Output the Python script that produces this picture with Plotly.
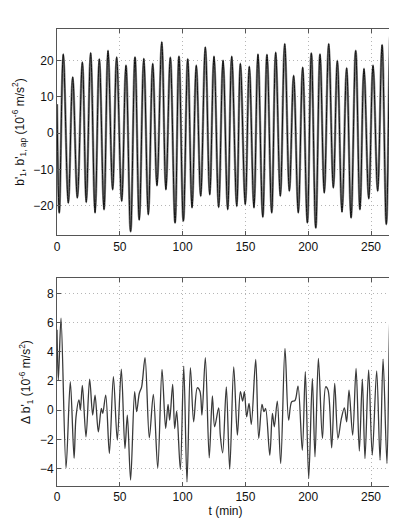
import plotly.graph_objects as go

# Top panel: b'_1 (local extrema), time in min, value in 1e-6 m/s^2
top_t = [0, 1.8, 5.0, 9.0, 12.5, 16.2, 20.2, 23.3, 26.8, 30.3, 33.7, 37.4, 40.6, 44.3, 47.5,
         51.5, 54.9, 58.6, 62.1, 65.5, 69.1, 72.7, 76.2, 79.6, 83.4, 86.7, 90.2, 94.0, 97.1,
         100.6, 104.1, 107.5, 110.9, 114.4, 118.1, 121.6, 125.0, 128.7, 132.2, 135.9, 139.1,
         143.1, 146.0, 149.9, 153.1, 156.8, 160.0, 163.8, 167.2, 170.9, 174.1, 177.8, 181.3,
         185.0, 188.4, 192.1, 195.6, 199.3, 202.5, 206.0, 209.4, 212.8, 216.3, 220.0, 223.2,
         226.9, 230.6, 234.1, 237.8, 241.2, 244.4, 248.2, 251.6, 255.3, 258.8, 262.2, 265.4, 268.3]
top_v = [8, -22.0, 21.8, -19.3, 15.5, -17.9, 19.6, -19.1, 22.2, -22.0, 20.5, -21.1, 22.8, -15.6, 21.0,
         -18.8, 18.7, -27.2, 21.0, -24.0, 20.6, -22.5, 19.2, -14.5, 25.2, -15.6, 20.9, -24.8, 21.2,
         -24.3, 20.5, -20.6, 18.7, -17.4, 23.8, -17.0, 21.2, -20.5, 20.1, -21.1, 21.2,
         -20.2, 19.2, -19.7, 18.4, -20.6, 21.8, -23.2, 21.7, -22.0, 22.3, -17.4, 24.7,
         -16.0, 15.9, -22.0, 18.2, -24.8, 22.1, -26.2, 21.8, -16.5, 24.7, -15.1, 20.0,
         -21.8, 18.0, -23.4, 22.8, -21.1, 17.8, -18.1, 18.7, -16.0, 24.4, -25.2, 27.6, -18.0]

# Bottom panel: delta b'_1
bot_t = [0, 1.06, 3.2, 7.2, 10.6, 13.6, 15.1, 17.5, 18.6, 20.2, 23.1, 26.0, 28.4, 30.3, 32.9,
         35.3, 36.4, 38.8, 41.7, 44.9, 48.0, 51.2, 54.1, 56.0, 58.6, 61.8, 63.4, 65.5, 67.4,
         70.1, 73.5, 76.7, 80.2, 83.6, 86.5, 88.4, 89.7, 92.1, 93.7, 95.3, 98.2, 100.9, 103.5,
         106.2, 108.8, 111.7, 113.8, 115.4, 118.1, 121.2, 123.7, 125.5, 128.7, 130.0, 131.9,
         134.8, 137.5, 140.7, 143.6, 146.0, 147.8, 149.2, 151.0, 152.9, 154.7, 158.2, 160.6,
         163.2, 164.8, 166.1, 169.4, 171.5, 173.0, 175.4, 178.1, 181.5, 184.4, 186.8, 189.5,
         191.9, 195.3, 197.7, 200.4, 203.3, 205.4, 208.1, 211.3, 213.9, 215.8, 218.7, 221.1,
         223.7, 226.4, 228.8, 230.6, 232.5, 235.4, 238.1, 240.7, 243.1, 245.2, 248.1, 251.0,
         254.5, 257.2, 259.6, 262.7, 265.1, 267.5, 268.3]
bot_v = [5.5, 2.06, 6.3, -3.96, 1.95, -3.3, -0.5, 0.7, 0.0, 1.7, -1.83, 2.13, -0.34, 1.03, -1.49,
         0.11, -0.23, 1.03, -2.97, 2.29, -2.06, 2.81, -2.63, -0.34, -4.8, 1.26, -0.11, 1.14, 1.6,
         3.6, -1.9, 1.08, -3.96, 2.79, -1.26, 0.39, -0.69, 1.76, -1.26, -0.07, -4.07, 3.02, -4.92,
         2.91, -0.8, 1.53, 1.3, -0.34, 3.6, -3.27, 0.98, -1.14, 0.16, -1.72, -2.93,
         1.6, -4.05, 2.97, -1.72, 1.26, 0.62, 1.26, -0.46, 0.46, -0.98, 3.48, -1.94,
         0.39, -0.11, 0.11, -3.09, -0.23, -1.14, 0.62, -3.66, 4.23, -0.69, 0.57, 0.66,
         1.65, -2.75, 2.63, -4.69, 2.17, -3.2, 3.55, -1.94, 1.6, 1.37, -2.59, 1.83,
         -1.94, -0.57, 0.16, -0.8, 1.37, -1.72, 2.86, -2.81, 2.13, -3.32, 2.75, -3.09,
         2.68, -3.43, 3.5, -3.66, 6.98, -1.94, 3.9]

x_ticks = [0, 50, 100, 150, 200, 250]
top_ticks = [-20, -10, 0, 10, 20]
bot_ticks = [-4, -2, 0, 2, 4, 6, 8]

FONT = "Liberation Sans, Arial, Helvetica, sans-serif"

fig = go.Figure()
fig.add_trace(go.Scatter(x=top_t, y=top_v, mode="lines", line=dict(color="#8a8a8a", width=2.4, shape="spline", smoothing=1.0),
                         xaxis="x", yaxis="y", showlegend=False, hoverinfo="skip"))
fig.add_trace(go.Scatter(x=top_t, y=top_v, mode="lines", line=dict(color="#111111", width=1.0, shape="spline", smoothing=1.0),
                         xaxis="x", yaxis="y", showlegend=False))
fig.add_trace(go.Scatter(x=bot_t, y=bot_v, mode="lines", line=dict(color="#3a3a3a", width=1.3, shape="spline", smoothing=0.9),
                         xaxis="x2", yaxis="y2", showlegend=False))

GRID = dict(showgrid=True, gridcolor="#b5b5b5", griddash="1px,3px", gridwidth=1)
AX = dict(showline=True, linecolor="#555555", linewidth=1, mirror="ticks", ticks="inside", ticklen=4,
          tickcolor="#555555", zeroline=False, tickfont=dict(size=12, color="#111"), automargin=False)

# page body has an 8px margin, so the figure is sized to sit inside the 397x529 window
fig.update_layout(
    width=389, height=521,
    margin=dict(l=49, r=3, t=21, b=43),
    paper_bgcolor="white", plot_bgcolor="white",
    font=dict(family=FONT, size=12, color="#111"),
    xaxis=dict(domain=[0, 1], anchor="y", range=[0, 268.3], tickvals=x_ticks, **GRID, **AX),
    yaxis=dict(domain=[0.549, 1], anchor="x", range=[-28.2, 28.8], tickvals=top_ticks,
               title=dict(text="b'<sub>1</sub>, b'<sub>1, ap</sub> (10<sup>-6</sup> m/s<sup>2</sup>)", standoff=6,
                          font=dict(size=12)), **GRID, **AX),
    xaxis2=dict(domain=[0, 1], anchor="y2", range=[0, 268.3], tickvals=x_ticks,
                title=dict(text="t (min)", standoff=2, font=dict(size=12)), **GRID, **AX),
    yaxis2=dict(domain=[0, 0.455], anchor="x2", range=[-5.2, 9.05], tickvals=bot_ticks,
                title=dict(text="Δ b'<sub>1</sub> (10<sup>-6</sup> m/s<sup>2</sup>)", standoff=6,
                           font=dict(size=12)), **GRID, **AX),
)

fig.write_html("out.html")
